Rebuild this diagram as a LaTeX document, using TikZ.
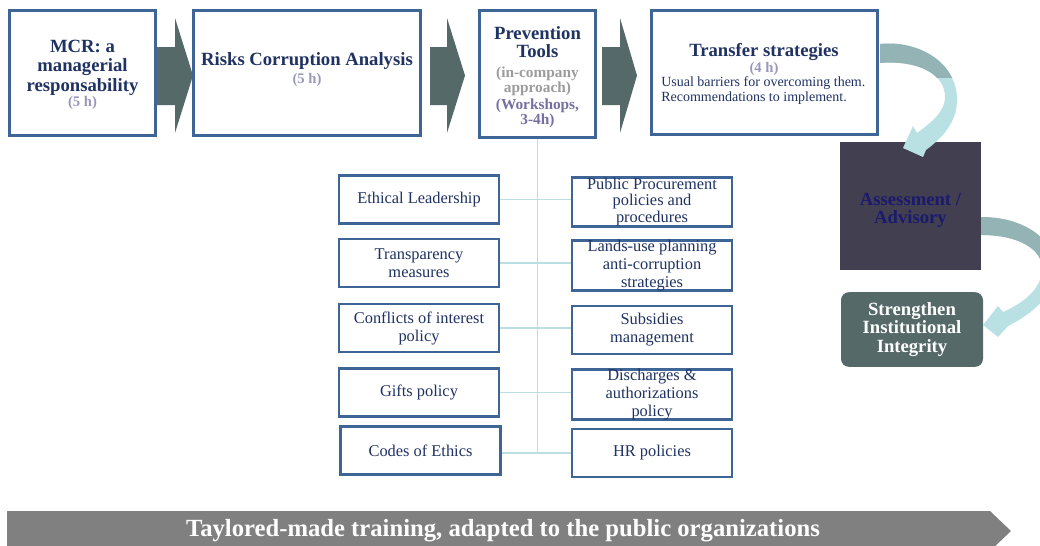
\documentclass[tikz,border=0pt]{standalone}
\usepackage{fontspec}
\setmainfont{Liberation Serif}
\usetikzlibrary{positioning}

\definecolor{navy}{HTML}{1F3262}
\definecolor{boxblue}{HTML}{3F6496}
\definecolor{slate}{HTML}{566969}
\definecolor{hourcol}{HTML}{9A98BA}
\definecolor{incomp}{HTML}{9C9C9C}
\definecolor{workcol}{HTML}{7570A2}
\definecolor{assessfill}{HTML}{413F50}
\definecolor{assesstext}{HTML}{1B1A6E}
\definecolor{linkcol}{HTML}{B9DFE3}
\definecolor{curvetop}{HTML}{93B3B4}
\definecolor{curvebot}{HTML}{B9E0E3}
\definecolor{banner}{HTML}{808080}

\newcommand\hrs[1]{{\fontsize{11}{12}\selectfont\color{hourcol}#1}}
\newcommand\incomp[1]{{\fontsize{11.5}{12}\selectfont\color{incomp}#1}}
\newcommand\workc[1]{{\fontsize{11.5}{12}\selectfont\color{workcol}#1}}

\def\bendA{(880,44) .. controls (915,40) and (957,60) .. (957,100) .. controls (957,120) and (945,136) .. (926,150) -- (923,157) -- (903,148) -- (913,126) -- (917,133) .. controls (935,120) and (945,110) .. (945,97) .. controls (945,75) and (920,60) .. (880,63) -- cycle}
\def\bendB{(981,217) .. controls (1025,217) and (1055,240) .. (1055,268) .. controls (1055,290) and (1040,310) .. (1008,326) -- (998,337) -- (983,325) -- (998,306) -- (1003,312) .. controls (1030,300) and (1042,285) .. (1042,268) .. controls (1042,250) and (1020,235) .. (981,235) -- cycle}

\begin{document}
\begin{tikzpicture}[x=0.75pt, y=-0.75pt,
        box/.style={draw=boxblue, line width=2.2pt, fill=white, inner sep=0pt, align=center, text=navy, font=\fontsize{14}{14.5}\bfseries},
        tool/.style={draw=boxblue, line width=2.2pt, fill=white, inner sep=0pt, minimum width=120pt, minimum height=36pt, align=center, text=navy, font=\fontsize{12.3}{13.5}\selectfont},
        title/.style={inner sep=0pt, align=center, text=navy, font=\fontsize{14}{14.5}\bfseries},
        link/.style={draw=linkcol, line width=0.9pt}]

        \useasboundingbox (0,0) rectangle (1040,546);
        \clip (0,0) rectangle (1040,546);

        % block arrows between the top boxes
        \foreach \a/\b/\c in {157/175/193, 430/447/465, 602/620/637}
            \fill[slate] (\a,47) -- (\b,47) -- (\b,18) -- (\c,75.5) -- (\b,133) -- (\b,105) -- (\a,105) -- cycle;

        \node[box, minimum width=109.5pt, minimum height=93.75pt] (mcr) at (82.5,73) {};
        \node[title] (mcrText) at (82.5,75) {MCR: a\\managerial\\responsability\\[-3pt]\hrs{(5 h)}};
        \node[box, minimum width=170pt, minimum height=93.75pt] (risks) at (307,73) {};
        \node[title] (risksText) at (307,69.5) {Risks Corruption Analysis\\[-1.5pt]\hrs{(5 h)}};
        \node[box, minimum width=87pt, minimum height=95pt] (prevention) at (537.5,74) {};
        \node[title] (preventionText) at (537.5,77) {Prevention\\[-1pt]Tools\\[0.5pt]\incomp{(in-company}\\[-3pt]\incomp{approach)}\\[-2.25pt]\workc{(Workshops,}\\[-3pt]\workc{3-4h)}};
        \node[box, minimum width=169.5pt, minimum height=93pt] (transfer) at (764.5,72.5) {};
        \node[title] (transferTitle) at (764,59.5) {Transfer strategies\\[-2.25pt]\hrs{(4 h)}};
        \node[inner sep=0pt, anchor=west, align=left, text=navy, font=\fontsize{10.5}{11.25}\selectfont] (transferNote) at (661,91) {Usual barriers for overcoming them.\\Recommendations to implement.};

        \node[fill=assessfill, minimum width=105.75pt, minimum height=96pt, align=center, text=assesstext, font=\fontsize{14}{13.5}\bfseries] (assess) at (910.5,206) {\rule{0pt}{16pt}Assessment /\\Advisory};
        \node[fill=slate, rounded corners=6pt, minimum width=106.5pt, minimum height=56pt, align=center, text=white, font=\fontsize{14}{14}\bfseries] (strengthen) at (912,329.5) {Strengthen\\Institutional\\Integrity};

        % curved arrows on the right
        \fill[curvebot] \bendA;
        \begin{scope}
            \clip (870,30) rectangle (970,77);
            \fill[curvetop] \bendA;
        \end{scope}
        \fill[curvebot] \bendB;
        \begin{scope}
            \clip (975,200) rectangle (1060,262);
            \fill[curvetop] \bendB;
        \end{scope}

        % prevention tools
        \foreach \name/\x/\y/\txt in {ethical/419/199.5/{Ethical Leadership}, transparency/419/263/{Transparency\\measures}, conflicts/419/328/{Conflicts of interest\\policy}, gifts/419/392.5/{Gifts policy}, codes/420.5/450.5/{Codes of Ethics}}
            \node[tool] (\name) at (\x,\y) {\txt};
        \foreach \name/\x/\y/\txt in {procurement/652/202/{Public Procurement\\[-1pt]policies and\\[-1pt]procedures}, landuse/652/265.5/{Lands-use planning\\anti-corruption\\strategies}, subsidies/652/330/{Subsidies\\management}, discharges/652/394.5/{Discharges \&\\authorizations\\policy}, hr/652/453/{HR policies}}
            \node[tool] (\name) at (\x,\y) {\txt};

        \draw[link] (prevention.south) -- (prevention.south |- hr.west);
        \foreach \l/\r in {ethical/procurement, transparency/landuse, conflicts/subsidies, gifts/discharges}
            \draw[link] (\l.east) -- (\l.east -| \r.west);
        \draw[link] (codes.east |- hr.west) -- (hr.west);

        % banner
        \fill[banner] (7,511) -- (990,511) -- (1011,531) -- (990,551) -- (7,551) -- cycle;
        \node[text=white, font=\fontsize{18.5}{18.5}\bfseries, inner sep=0pt] (training) at (503,531) {Taylored-made training, adapted to the public organizations};

    \end{tikzpicture}
\end{document}
